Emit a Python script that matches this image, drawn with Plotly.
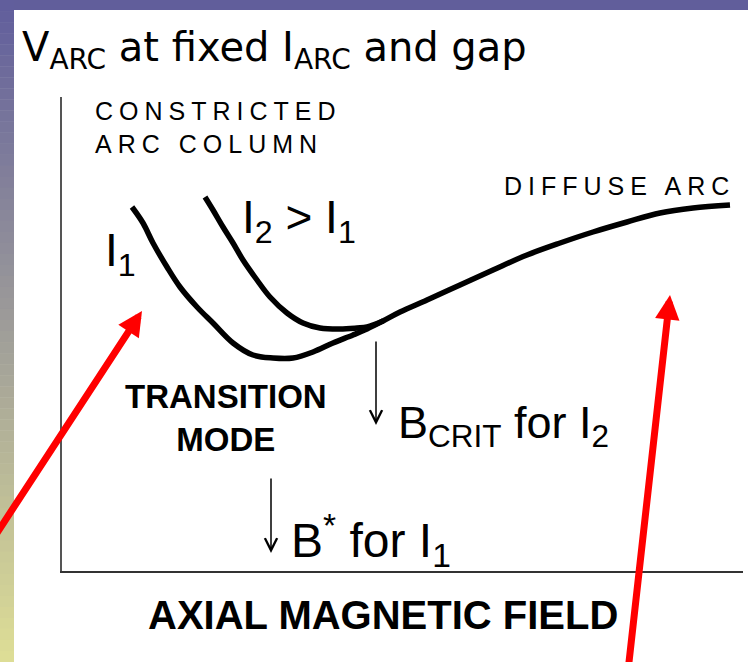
import plotly.graph_objects as go

# ---- data (axis units: field on x, arc voltage on y) ----
i1_field = [70, 81, 91, 105, 118, 135, 151, 171, 191, 211, 231, 251, 271, 291, 305,
            321, 338, 365, 398, 431, 465, 498, 531, 565, 598, 631, 668]
i1_varc = [364, 348, 328, 304, 284, 264, 248, 228, 216, 213, 213, 219, 228, 236, 242,
           250, 259, 271, 286, 301, 316, 328, 339, 349, 358, 363, 366]

i2_field = [143, 151, 161, 171, 181, 195, 208, 225, 241, 258, 278, 295, 305, 321]
i2_varc = [374, 361, 344, 328, 311, 291, 274, 258, 248, 243, 242, 243, 244, 250]

# marker arrows for critical fields (x, y_top, y_bottom)
bcrit_i2 = (314, 231, 146)
bstar_i1 = (209, 94, 18)

# ---- layout geometry ----
W, H = 748, 662
L, R, T, B = 62, 5, 97, 91
PW, PH = W - L - R, H - T - B

def px(x):
    return (x - L) / PW

def py(y):
    return (H - B - y) / PH

fig = go.Figure()
fig.add_trace(go.Scatter(x=i1_field, y=i1_varc, mode="lines", line=dict(color="black", width=5.5, shape="spline"),
                         hoverinfo="skip"))
fig.add_trace(go.Scatter(x=i2_field, y=i2_varc, mode="lines", line=dict(color="black", width=5.5, shape="spline"),
                         hoverinfo="skip"))

shapes = []
# top band
shapes.append(dict(type="rect", xref="paper", yref="paper", x0=px(0), x1=px(W), y0=py(0), y1=py(10),
                   fillcolor="#615e9b", line_width=0, layer="below"))
# left gradient band
c0 = (97, 94, 156)
c1 = (221, 221, 150)
N = 60
for i in range(N):
    t = i / (N - 1)
    col = tuple(int(round(c0[k] + (c1[k] - c0[k]) * t)) for k in range(3))
    y0 = H * i / N
    y1 = H * (i + 1) / N + 0.5
    shapes.append(dict(type="rect", xref="paper", yref="paper", x0=px(0), x1=px(14), y0=py(y0), y1=py(y1),
                       fillcolor="rgb(%d,%d,%d)" % col, line_width=0, layer="below"))

arial = "Liberation Sans, Arial"
dejavu = "DejaVu Sans, Verdana"
wide = '<span style="letter-spacing:6px">%s</span>'

ann = []
def text(x, y, s, size, fam=arial, xanchor="left", yanchor="middle", color="black", align="left"):
    ann.append(dict(xref="paper", yref="paper", x=px(x), y=py(y), text=s, showarrow=False,
                    xanchor=xanchor, yanchor=yanchor, align=align,
                    font=dict(family=fam, size=size, color=color)))

text(20, 50, "V<sub>ARC</sub> at fixed I<sub>ARC</sub> and gap", 40, fam=dejavu)
text(93, 127, wide % "CONSTRICTED" + "<br>" + wide % "ARC COLUMN", 25)
text(502, 186, wide % "DIFFUSE ARC", 25)
text(103, 254, "I<sub>1</sub>", 46)
text(240, 220, "I<sub>2</sub> &gt; I<sub>1</sub>", 46)
text(226, 418, "<b>TRANSITION<br>MODE</b>", 33, xanchor="center", align="center")
text(396, 425, "B<sub>CRIT</sub> for I<sub>2</sub>", 45)
text(289, 540, "B<sup>*</sup> for I<sub>1</sub>", 48)
text(383, 615, "<b>AXIAL MAGNETIC FIELD</b>", 40, xanchor="center")

# black field markers
for (x, yt, yb) in (bcrit_i2, bstar_i1):
    ann.append(dict(x=x, y=yb, ax=x, ay=yt, xref="x", yref="y", axref="x", ayref="y", text="",
                    showarrow=True, arrowhead=5, arrowsize=1.6, arrowwidth=1.5, arrowcolor="black"))

# red pointer arrows
red_arrows = [((-69, 32), (80, 260)), ((566, -100), (608, 276))]
for (tail, tip) in red_arrows:
    ann.append(dict(x=tip[0], y=tip[1], ax=tail[0], ay=tail[1], xref="x", yref="y", axref="x", ayref="y",
                    text="", showarrow=True, arrowhead=2, arrowsize=0.7, arrowwidth=7, arrowcolor="#ff0000"))

fig.update_layout(
    width=W, height=H,
    margin=dict(l=L, r=R, t=T, b=B, pad=0),
    paper_bgcolor="white", plot_bgcolor="white",
    showlegend=False,
    shapes=shapes, annotations=ann,
    xaxis=dict(range=[0, PW], showgrid=False, zeroline=False, showticklabels=False, ticks="",
               showline=True, linecolor="#333333", linewidth=2, fixedrange=True),
    yaxis=dict(range=[0, PH], showgrid=False, zeroline=False, showticklabels=False, ticks="",
               showline=True, linecolor="#555555", linewidth=2, fixedrange=True),
)
fig.write_html("out.html", config={"displayModeBar": False},
               post_script="document.body.style.margin='0';document.body.style.overflow='hidden';")
